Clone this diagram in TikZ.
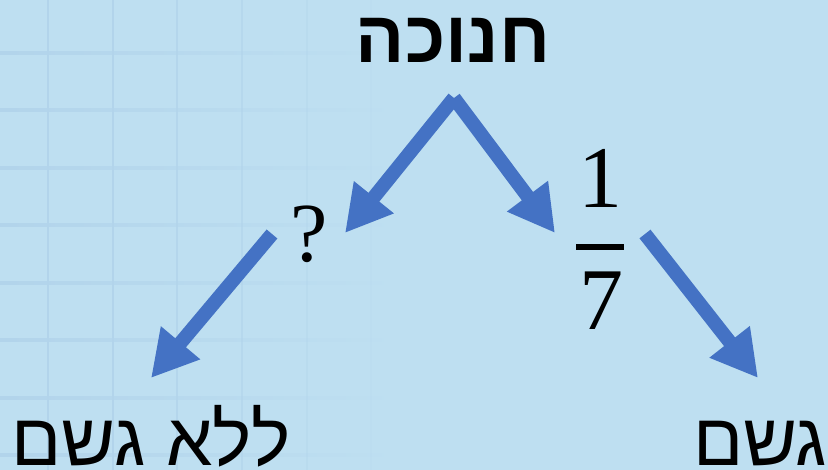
\documentclass[tikz,border=0pt]{standalone}
\usepackage{fontspec}
\setmainfont{Liberation Serif}
\newfontfamily\hebfont[Script=Hebrew]{Liberation Sans}
\TeXXeTstate=1
\usetikzlibrary{arrows.meta}
\definecolor{bgblue}{HTML}{BEDFF1}
\definecolor{gridblue}{HTML}{B2D4EB}
\definecolor{arrowblue}{HTML}{4472C4}
\begin{document}
\begin{tikzpicture}[x=1pt,y=-1pt,
  bigarrow/.style={draw=arrowblue, line width=14pt, line cap=butt,
    -{Triangle[length=46pt,width=48pt]}},
  hebtext/.style={font=\hebfont\fontsize{74}{74}\selectfont, inner sep=0pt, anchor=base},
  serifbig/.style={font=\fontsize{88}{88}\selectfont, inner sep=0pt, anchor=base},
  gridline/.style={gridblue, line width=2.5pt},
]
\useasboundingbox (0,0) rectangle (828,470);
\fill[bgblue] (0,0) rectangle (828,470);
% faint grid fading to the right
\foreach \y in {53,110,168,225,283,340,398,455}
  \shade[left color=gridblue, right color=bgblue] (0,\y-1.25) rectangle (400,\y+1.25);
\foreach \x/\o in {48/1,113/1,177/0.8,242/0.6,307/0.35,371/0.12}
  \draw[gridline, opacity=\o] (\x,0) -- (\x,470);

% texts
\node[hebtext, font=\hebfont\bfseries\fontsize{73}{73}\selectfont] (top) at (453,63) {\beginR חנוכה\endR};
\node[hebtext] (nogeshem) at (151,465) {\beginR ללא גשם\endR};
\node[hebtext, anchor=base west] (geshem) at (693,465) {\beginR גשם\endR};
\node[serifbig, font=\fontsize{84}{84}\selectfont] (q) at (309,262) {?};
% fraction 1/7
\node[serifbig] (num) at (600,208) {1};
\node[fill=black, minimum width=48pt, minimum height=6.5pt, inner sep=0pt] (bar) at (600,247) {};
\node[serifbig] (den) at (601,330) {7};

% arrow end points
\coordinate (apex) at (454,98);
\coordinate (qtip) at (345,233);
\coordinate (ftip) at (555,233);
\coordinate (qout) at (272,234);
\coordinate (ltip) at (151,378);
\coordinate (fout) at (645,234);
\coordinate (rtip) at (758,378);

\draw[bigarrow] (apex) -- (qtip);
\draw[bigarrow] (apex) -- (ftip);
\draw[bigarrow] (qout) -- (ltip);
\draw[bigarrow] (fout) -- (rtip);
\end{tikzpicture}
\end{document}
